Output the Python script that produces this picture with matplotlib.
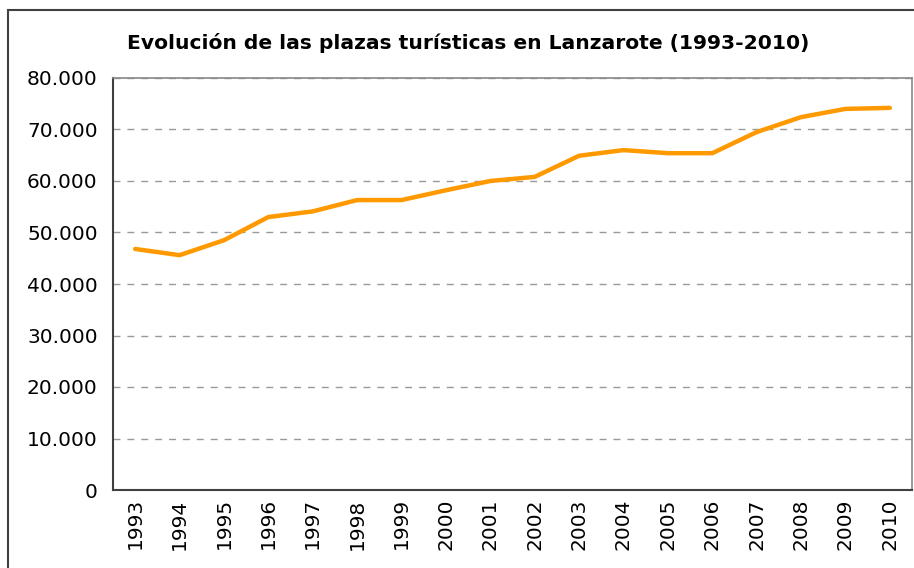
import matplotlib.pyplot as plt
from matplotlib.patches import Rectangle
from matplotlib.ticker import FuncFormatter

# Plazas turísticas en Lanzarote
years = ["1993", "1994", "1995", "1996", "1997", "1998", "1999", "2000", "2001",
         "2002", "2003", "2004", "2005", "2006", "2007", "2008", "2009", "2010"]
plazas = [46800, 45600, 48500, 53000, 54100, 56300, 56300, 58200, 60000,
          60800, 64900, 66000, 65400, 65400, 69500, 72400, 74000, 74200]

title = "Evolución de las plazas turísticas en Lanzarote (1993-2010)"

fig = plt.figure(figsize=(9.14, 5.68), dpi=100)
ax = fig.add_axes([113 / 914, 78 / 568, 799 / 914, 412 / 568])

# marco exterior del gráfico
fig.patches.append(Rectangle((8 / 914, -0.1), 1.2, (568 - 10) / 568 + 0.1,
                             transform=fig.transFigure, fill=False,
                             edgecolor="#404040", linewidth=1.5))

x = range(len(years))
ax.plot(x, plazas, color="#FF9900", linewidth=3.2, solid_capstyle="round")

ax.set_xlim(-0.5, len(years) - 0.5)
ax.set_ylim(0, 80000)
ax.set_yticks(range(0, 80001, 10000))
ax.yaxis.set_major_formatter(FuncFormatter(lambda v, p: f"{int(v):,}".replace(",", ".")))
ax.set_xticks(list(x))
ax.set_xticklabels(years, rotation=90)
ax.tick_params(axis="both", length=0, labelsize=14.5)
ax.tick_params(axis="x", pad=6)
ax.tick_params(axis="y", pad=11)

ax.grid(axis="y", linestyle=(0, (5, 5)), color="#999999", linewidth=1)
ax.set_axisbelow(True)
for s in ["left", "bottom"]:
    ax.spines[s].set_color("#404040")
    ax.spines[s].set_linewidth(1.5)
for s in ["top", "right"]:
    ax.spines[s].set_color("#888888")
    ax.spines[s].set_linewidth(1.2)

fig.text(468 / 914, 1 - 43 / 568, title, ha="center", va="center",
         fontsize=14.6, fontweight="bold")

fig.savefig("out.png", dpi=100)
